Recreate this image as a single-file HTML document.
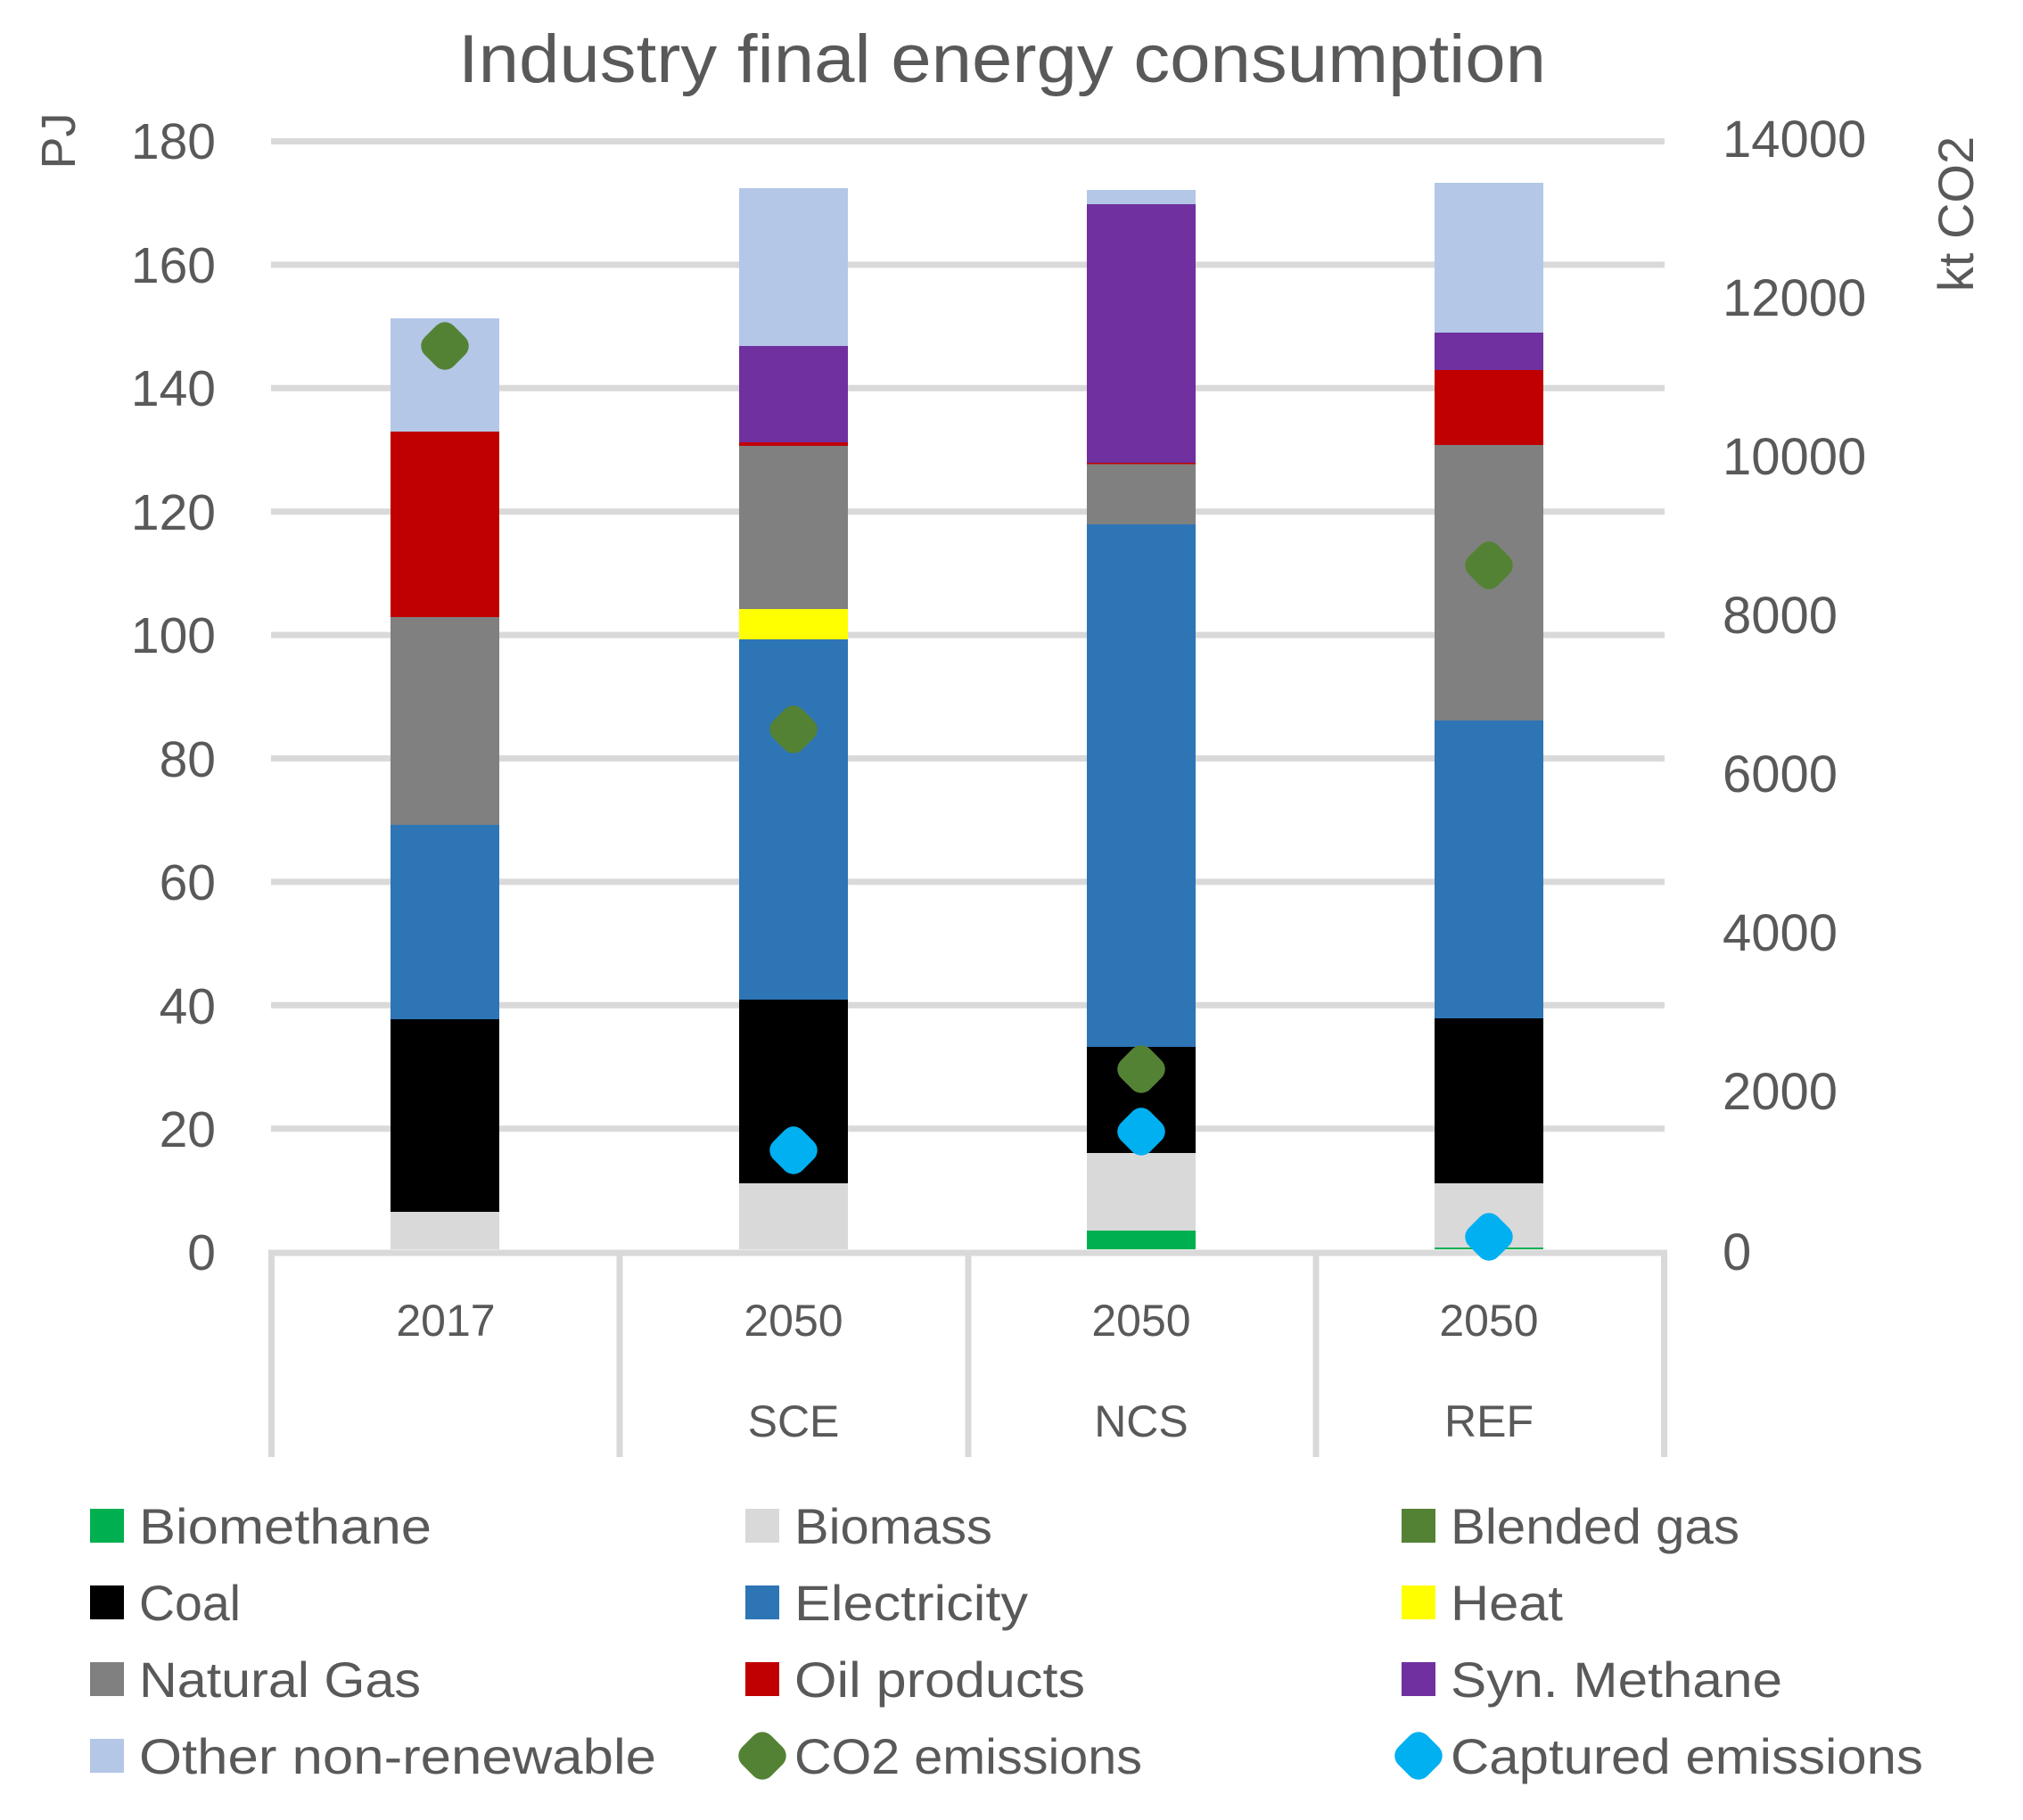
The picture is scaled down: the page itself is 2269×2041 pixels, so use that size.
<!DOCTYPE html>
<html><head><meta charset="utf-8"><style>
html,body{margin:0;padding:0;background:#fff;}
svg{display:block;}
text{font-family:"Liberation Sans",sans-serif;fill:#595959;}
</style></head><body>
<svg width="2269" height="2041" viewBox="0 0 2269 2041" xmlns="http://www.w3.org/2000/svg">
<rect width="2269" height="2041" fill="#fff"/>
<text x="1124" y="92" font-size="76" text-anchor="middle" textLength="1220" lengthAdjust="spacingAndGlyphs">Industry final energy consumption</text>
<g stroke="#d9d9d9" stroke-width="7">
<line x1="304" x2="1867" y1="158.5" y2="158.5"/>
<line x1="304" x2="1867" y1="296.9" y2="296.9"/>
<line x1="304" x2="1867" y1="435.3" y2="435.3"/>
<line x1="304" x2="1867" y1="573.7" y2="573.7"/>
<line x1="304" x2="1867" y1="712.1" y2="712.1"/>
<line x1="304" x2="1867" y1="850.5" y2="850.5"/>
<line x1="304" x2="1867" y1="988.9" y2="988.9"/>
<line x1="304" x2="1867" y1="1127.3" y2="1127.3"/>
<line x1="304" x2="1867" y1="1265.7" y2="1265.7"/>
</g>
<g>
<rect x="438" width="122" y="1359" height="42" fill="#d9d9d9"/>
<rect x="438" width="122" y="1143" height="216" fill="#000"/>
<rect x="438" width="122" y="925" height="218" fill="#2e75b6"/>
<rect x="438" width="122" y="692" height="233" fill="#808080"/>
<rect x="438" width="122" y="484" height="208" fill="#c00000"/>
<rect x="438" width="122" y="357" height="127" fill="#b4c7e7"/>
<rect x="829" width="122" y="1327" height="74" fill="#d9d9d9"/>
<rect x="829" width="122" y="1121" height="206" fill="#000"/>
<rect x="829" width="122" y="717" height="404" fill="#2e75b6"/>
<rect x="829" width="122" y="683" height="34" fill="#ffff00"/>
<rect x="829" width="122" y="500" height="183" fill="#808080"/>
<rect x="829" width="122" y="496" height="4" fill="#c00000"/>
<rect x="829" width="122" y="388" height="108" fill="#7030a0"/>
<rect x="829" width="122" y="211" height="177" fill="#b4c7e7"/>
<rect x="1219" width="122" y="1380" height="21" fill="#00b050"/>
<rect x="1219" width="122" y="1293" height="87" fill="#d9d9d9"/>
<rect x="1219" width="122" y="1174" height="119" fill="#000"/>
<rect x="1219" width="122" y="588" height="586" fill="#2e75b6"/>
<rect x="1219" width="122" y="520" height="68" fill="#808080"/>
<rect x="1219" width="122" y="519" height="1.5" fill="#c00000"/>
<rect x="1219" width="122" y="229" height="290" fill="#7030a0"/>
<rect x="1219" width="122" y="213" height="16" fill="#b4c7e7"/>
<rect x="1609" width="122" y="1399" height="2" fill="#00b050"/>
<rect x="1609" width="122" y="1327" height="72" fill="#d9d9d9"/>
<rect x="1609" width="122" y="1142" height="185" fill="#000"/>
<rect x="1609" width="122" y="808" height="334" fill="#2e75b6"/>
<rect x="1609" width="122" y="499" height="309" fill="#808080"/>
<rect x="1609" width="122" y="415" height="84" fill="#c00000"/>
<rect x="1609" width="122" y="373" height="42" fill="#7030a0"/>
<rect x="1609" width="122" y="205" height="168" fill="#b4c7e7"/>
</g>
<g stroke="#d9d9d9" stroke-width="7">
<line x1="301" x2="1870" y1="1405" y2="1405"/>
<line x1="304.5" x2="304.5" y1="1405" y2="1634"/>
<line x1="695" x2="695" y1="1405" y2="1634"/>
<line x1="1086" x2="1086" y1="1405" y2="1634"/>
<line x1="1476" x2="1476" y1="1405" y2="1634"/>
<line x1="1866.5" x2="1866.5" y1="1405" y2="1634"/>
</g>
<defs>
<rect id="mk" x="-23" y="-23" width="46" height="46" rx="14" transform="rotate(45)"/>
</defs>
<g fill="#548235">
<use href="#mk" x="499" y="388"/>
<use href="#mk" x="890" y="818"/>
<use href="#mk" x="1280" y="1199"/>
<use href="#mk" x="1670" y="634"/>
</g>
<g fill="#00b0f0">
<use href="#mk" x="890" y="1290"/>
<use href="#mk" x="1280" y="1269"/>
<use href="#mk" x="1670" y="1387"/>
</g>
<g font-size="57" text-anchor="end">
<text x="242" y="178">180</text>
<text x="242" y="317">160</text>
<text x="242" y="455">140</text>
<text x="242" y="594">120</text>
<text x="242" y="732">100</text>
<text x="242" y="871">80</text>
<text x="242" y="1009">60</text>
<text x="242" y="1148">40</text>
<text x="242" y="1286">20</text>
<text x="242" y="1424">0</text>
</g>
<g font-size="58">
<text x="1932" y="176">14000</text>
<text x="1932" y="354">12000</text>
<text x="1932" y="532">10000</text>
<text x="1932" y="710">8000</text>
<text x="1932" y="888">6000</text>
<text x="1932" y="1066">4000</text>
<text x="1932" y="1244">2000</text>
<text x="1932" y="1424">0</text>
</g>
<text transform="translate(84,158) rotate(-90)" font-size="54" text-anchor="middle">PJ</text>
<text transform="translate(2213,240) rotate(-90)" font-size="56" text-anchor="middle">kt CO2</text>
<g font-size="50" text-anchor="middle">
<text x="500" y="1498">2017</text>
<text x="890" y="1498">2050</text>
<text x="1280" y="1498">2050</text>
<text x="1670" y="1498">2050</text>
<text x="890" y="1611">SCE</text>
<text x="1280" y="1611">NCS</text>
<text x="1670" y="1611">REF</text>
</g>
<g>
<rect x="101" y="1692" width="38" height="38" fill="#00b050"/>
<rect x="836" y="1692" width="38" height="38" fill="#d9d9d9"/>
<rect x="1572" y="1692" width="38" height="38" fill="#548235"/>
<rect x="101" y="1778" width="38" height="38" fill="#000"/>
<rect x="836" y="1778" width="38" height="38" fill="#2e75b6"/>
<rect x="1572" y="1778" width="38" height="38" fill="#ffff00"/>
<rect x="101" y="1864" width="38" height="38" fill="#808080"/>
<rect x="836" y="1864" width="38" height="38" fill="#c00000"/>
<rect x="1572" y="1864" width="38" height="38" fill="#7030a0"/>
<rect x="101" y="1950" width="38" height="38" fill="#b4c7e7"/>
<use href="#mk" x="855" y="1969" fill="#548235"/>
<use href="#mk" x="1591" y="1969" fill="#00b0f0"/>
</g>
<g font-size="56">
<text x="156" y="1731" textLength="328" lengthAdjust="spacingAndGlyphs">Biomethane</text>
<text x="891" y="1731" textLength="222" lengthAdjust="spacingAndGlyphs">Biomass</text>
<text x="1627" y="1731" textLength="324" lengthAdjust="spacingAndGlyphs">Blended gas</text>
<text x="156" y="1817" textLength="114" lengthAdjust="spacingAndGlyphs">Coal</text>
<text x="891" y="1817" textLength="262" lengthAdjust="spacingAndGlyphs">Electricity</text>
<text x="1627" y="1817" textLength="126" lengthAdjust="spacingAndGlyphs">Heat</text>
<text x="156" y="1903" textLength="316" lengthAdjust="spacingAndGlyphs">Natural Gas</text>
<text x="891" y="1903" textLength="326" lengthAdjust="spacingAndGlyphs">Oil products</text>
<text x="1627" y="1903" textLength="372" lengthAdjust="spacingAndGlyphs">Syn. Methane</text>
<text x="156" y="1989" textLength="580" lengthAdjust="spacingAndGlyphs">Other non-renewable</text>
<text x="891" y="1989" textLength="390" lengthAdjust="spacingAndGlyphs">CO2 emissions</text>
<text x="1627" y="1989" textLength="530" lengthAdjust="spacingAndGlyphs">Captured emissions</text>
</g>
</svg>
</body></html>
